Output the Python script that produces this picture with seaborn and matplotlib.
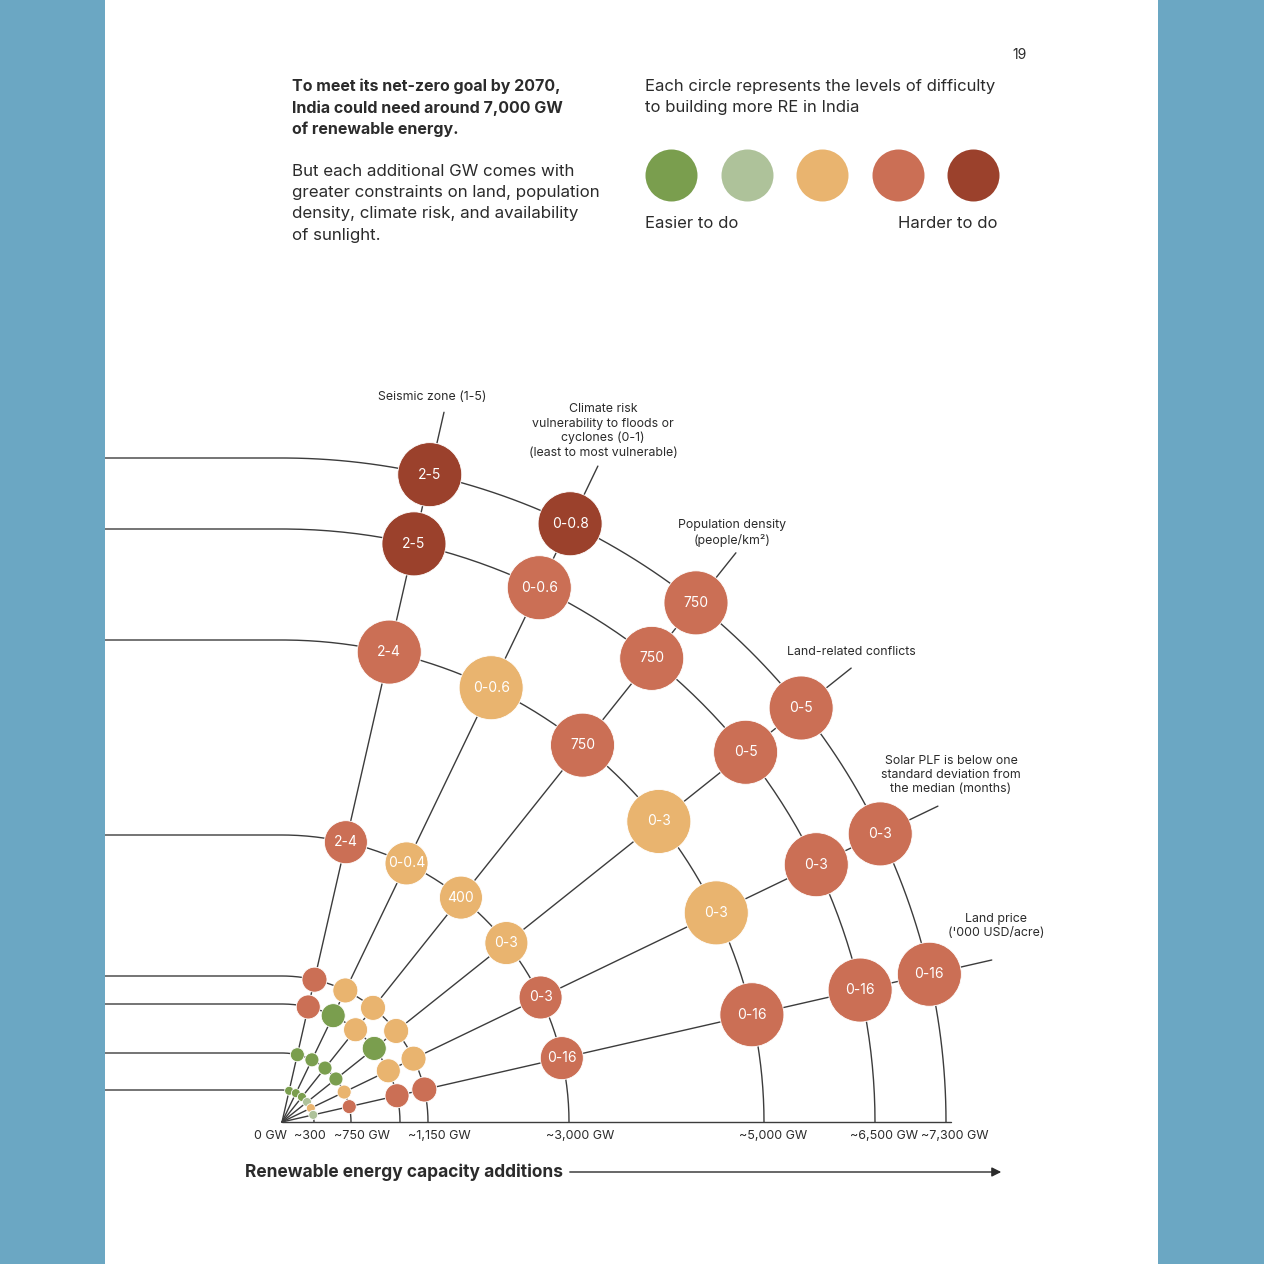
import numpy as np
import pandas as pd
import matplotlib.pyplot as plt
import seaborn as sns

# ---- data ----
constraints = ["Seismic zone", "Climate risk", "Population density",
               "Land-related conflicts", "Solar PLF", "Land price"]

ring_names = ["~300", "~750 GW", "", "~1,150 GW", "~3,000 GW",
              "~5,000 GW", "~6,500 GW", "~7,300 GW"]
ring_pos = [32, 69, 118, 146, 287, 482, 593, 664]   # position on the capacity axis

# difficulty per ring (inner -> outer), one value per constraint
# 0 = easier ... 4 = harder
levels = [
    [0, 0, 0, 1, 2, 1],
    [0, 0, 0, 0, 2, 3],
    [3, 0, 2, 0, 2, 3],
    [3, 2, 2, 2, 2, 3],
    [3, 2, 2, 2, 3, 3],
    [3, 2, 3, 2, 2, 3],
    [4, 3, 3, 3, 3, 3],
    [4, 4, 3, 3, 3, 3],
]
values = [
    [""] * 6,
    [""] * 6,
    [""] * 6,
    [""] * 6,
    ["2-4", "0-0.4", "400", "0-3", "0-3", "0-16"],
    ["2-4", "0-0.6", "750", "0-3", "0-3", "0-16"],
    ["2-5", "0-0.6", "750", "0-5", "0-3", "0-16"],
    ["2-5", "0-0.8", "750", "0-5", "0-3", "0-16"],
]
constraint_labels = [
    "Seismic zone (1-5)",
    "Climate risk\nvulnerability to floods or\ncyclones (0-1)\n(least to most vulnerable)",
    "Population density\n(people/km²)",
    "Land-related conflicts",
    "Solar PLF is below one\nstandard deviation from\nthe median (months)",
    "Land price\n('000 USD/acre)",
]
level_colors = {0: "#7a9e4e", 1: "#aec29a", 2: "#e9b46f", 3: "#cb6f55", 4: "#9b412c"}

# ---- layout (pixels of the 1264 px page) ----
W = H = 1264
OX, OY = 282, 1122          # origin of the fan
circle_r = [4.5, 7, 12, 12.5, 21.5, 32, 32, 32]
INK = "#2b2b2b"
LINE = "#3c3c3c"


def px(x, y):
    return x - OX, OY - y


n = len(constraints)
angles = [np.deg2rad(90 * (n - k) / (n + 1)) for k in range(n)]

rows = []
for i, r in enumerate(ring_pos):
    for k, a in enumerate(angles):
        rows.append({"ring": i, "constraint": constraints[k],
                     "x": r * np.cos(a), "y": r * np.sin(a),
                     "level": levels[i][k], "value": values[i][k]})
df = pd.DataFrame(rows)

sns.set_style("white")
plt.rcParams["font.family"] = ["Inter", "DejaVu Sans"]

fig = plt.figure(figsize=(W / 100, H / 100), dpi=100)
ax = fig.add_axes([0, 0, 1, 1])
ax.set_xlim(-OX, W - OX)
ax.set_ylim(-(H - OY), OY)
ax.axis("off")

# side bands
ax.axvspan(-OX, 105 - OX, color="#6ba7c3", zorder=6, lw=0)
ax.axvspan(1158 - OX, W - OX, color="#6ba7c3", zorder=6, lw=0)

# rings: quarter circle then a straight run to the left
t = np.linspace(0, np.pi / 2, 200)
for r in ring_pos:
    xs = np.append(r * np.cos(t), -OX)
    ys = np.append(r * np.sin(t), r)
    ax.plot(xs, ys, color=LINE, lw=1.0, zorder=1)

# rays with leaders
for a in angles:
    ax.plot([0, 728 * np.cos(a)], [0, 728 * np.sin(a)], color=LINE, lw=1.0, zorder=1)

# base axis
ax.plot([0, ring_pos[-1] + 5], [0, 0], color=LINE, lw=1.0, zorder=1)

# circles
sizes = {i: (2 * cr * 0.72) ** 2 for i, cr in enumerate(circle_r)}
sns.scatterplot(data=df, x="x", y="y", hue="level", palette=level_colors,
                size="ring", sizes=sizes, legend=False, edgecolor="white",
                linewidth=0.6, ax=ax, zorder=3)
for _, row in df[df["value"] != ""].iterrows():
    ax.text(row["x"], row["y"], row["value"], color="white", fontsize=10,
            ha="center", va="center", zorder=4)

# constraint labels
label_at = [(432, 397), (603, 431), (732, 533), (851, 652), (951, 775), (996, 926)]
for lab, (lx, ly) in zip(constraint_labels, label_at):
    ax.text(*px(lx, ly), lab, fontsize=8.9, color=INK, ha="center", va="center",
            linespacing=1.25, zorder=4)

# capacity tick labels
ax.text(*px(270, 1136), "0 GW", fontsize=9, color=INK, ha="center", va="center")
for r, name in zip(ring_pos, ring_names):
    if not name:
        continue
    nudge = -4 if r < 50 else (11 if r < 300 else 9)
    ax.text(r + nudge, OY - 1136, name, fontsize=9, color=INK, ha="center", va="center")

# axis title with arrow
ax.text(*px(245, 1172), "Renewable energy capacity additions", fontsize=12.5,
        fontweight="bold", color=INK, ha="left", va="center")
ax.annotate("", xy=px(1004, 1172), xytext=px(567, 1172),
            arrowprops=dict(arrowstyle="-|>", lw=1.0, color=INK, mutation_scale=14))

# header texts
ax.text(*px(292, 79), "To meet its net-zero goal by 2070,\nIndia could need around 7,000 GW\n"
        "of renewable energy.", fontsize=11.5, fontweight="bold", color=INK,
        ha="left", va="top", linespacing=1.46)
ax.text(*px(292, 164), "But each additional GW comes with\ngreater constraints on land, population\n"
        "density, climate risk, and availability\nof sunlight.", fontsize=12.2, color=INK,
        ha="left", va="top", linespacing=1.52)
ax.text(*px(645, 79), "Each circle represents the levels of difficulty\nto building more RE in India",
        fontsize=12, color=INK, ha="left", va="top", linespacing=1.47)

# difficulty legend
leg_x = [671, 747, 822, 898, 973]
for lv, lx in zip(sorted(level_colors), leg_x):
    ax.scatter(*px(lx, 175), s=(2 * 26 * 0.72) ** 2, color=level_colors[lv], lw=0, zorder=3)
ax.text(*px(645, 224), "Easier to do", fontsize=12, color=INK, ha="left", va="center")
ax.text(*px(998, 224), "Harder to do", fontsize=12, color=INK, ha="right", va="center")

ax.text(*px(1020, 55), "19", fontsize=10, color=INK, ha="center", va="center")

fig.savefig("out.png", dpi=100, facecolor="white")
